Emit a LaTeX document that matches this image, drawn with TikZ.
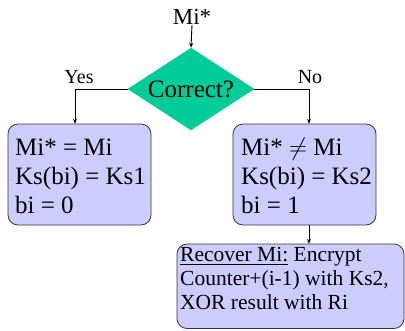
\documentclass[tikz,border=0pt]{standalone}
\usepackage{fontspec}
\setmainfont{Liberation Serif}
\usepackage{amssymb}
\usetikzlibrary{shapes.geometric,arrows.meta}
\definecolor{dgreen}{RGB}{0,204,153}
\definecolor{lav}{RGB}{204,204,255}
\begin{document}
\begin{tikzpicture}[x=1pt,y=-1pt,
  box/.style={draw=black!80,fill=lav,rounded corners=10pt,line width=0.8pt},
  arr/.style={-{Stealth[length=5pt,width=4pt]},line width=0.9pt},
  lbl/.style={font=\fontsize{20}{20}\selectfont,inner sep=0pt}]
\useasboundingbox (0,0) rectangle (405,330);
\node[font=\fontsize{23}{23}\selectfont,inner sep=0pt] (mi) at (192,17) {Mi*};
\node[diamond,fill=dgreen,draw=dgreen,minimum width=126pt,minimum height=82pt,inner sep=0pt,aspect=1.5] (d) at (191,89) {};
\node[font=\fontsize{25}{25}\selectfont] at (d.center) {Correct?};
\draw[box] (8,124) rectangle (151,225);
\node[minimum width=143pt,minimum height=101pt] (lb) at (79.5,174.5) {};
\draw[box] (233,124) rectangle (376,225);
\node[minimum width=143pt,minimum height=101pt] (rb) at (304.5,174.5) {};
\draw[box] (177,244) rectangle (404,328.5);
\node[minimum width=227pt,minimum height=84.5pt] (bb) at (290.5,286.25) {};
\node[anchor=west,align=left,font=\fontsize{25}{29}\selectfont,inner sep=0pt] at (15,176) {Mi* = Mi\\Ks(bi) = Ks1\\bi = 0};
\node[anchor=west,align=left,font=\fontsize{25}{29}\selectfont,inner sep=0pt] at (241,176) {Mi* $\neq$ Mi\\Ks(bi) = Ks2\\bi = 1};
\node[anchor=west,align=left,font=\fontsize{21.5}{24}\selectfont,inner sep=0pt] at (180,278) {\underline{Recover Mi:} Encrypt\\Counter+(i-1) with Ks2,\\XOR result with Ri};
\coordinate (lc) at (75,89);
\coordinate (rc) at (309,89);
\draw[arr] (mi.south) -- (d.north);
\draw[arr] (d.west) -- (lc) -- (lb.north -| lc);
\draw[arr] (d.east) -- (rc) -- (rb.north -| rc);
\draw[arr] (rb.south -| rc) -- (bb.north -| rc);
\node[lbl] at (79,77) {Yes};
\node[lbl] at (310,77) {No};
\end{tikzpicture}
\end{document}
